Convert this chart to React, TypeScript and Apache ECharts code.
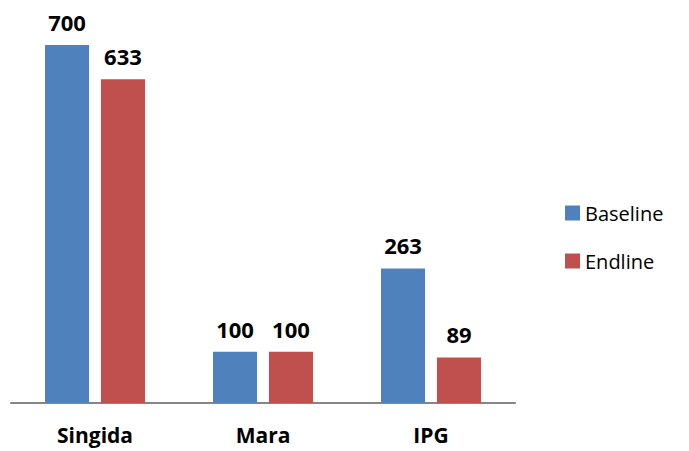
import React, { useEffect, useRef } from "react";
import * as echarts from "echarts";

const categories = ["Singida", "Mara", "IPG"];
const baseline = [700, 100, 263];
const endline = [633, 100, 89];
const seriesNames = ["Baseline", "Endline"];

export default function App() {
  const ref = useRef<HTMLDivElement>(null);
  useEffect(() => {
    if (!ref.current) return;
    const chart = echarts.init(ref.current, undefined, { renderer: "svg" });
    const font = "'Open Sans', Lato, sans-serif";
    const labelStyle = {
      show: true,
      position: "top" as const,
      distance: 12,
      fontFamily: font,
      fontWeight: "bold" as const,
      fontSize: 22,
      color: "#000",
    };
    chart.setOption({
      animation: false,
      textStyle: { fontFamily: font },
      grid: { left: 11, top: 45, width: 504, height: 358 },
      legend: {
        orient: "vertical",
        left: 560,
        top: 198,
        itemWidth: 15,
        itemHeight: 15,
        itemGap: 28,
        icon: "rect",
        textStyle: { fontFamily: font, fontSize: 20, color: "#000" },
        data: seriesNames,
      },
      xAxis: {
        type: "category",
        data: categories,
        axisLine: { lineStyle: { color: "#868686", width: 2 } },
        axisTick: { show: false },
        axisLabel: {
          fontFamily: font,
          fontWeight: "bold",
          fontSize: 21,
          color: "#000",
          margin: 21,
        },
      },
      yAxis: {
        type: "value",
        min: 0,
        max: 700,
        show: false,
        splitLine: { show: false },
      },
      series: [
        {
          name: seriesNames[0],
          type: "bar",
          data: baseline,
          barGap: "27%",
          barCategoryGap: "40.5%",
          itemStyle: { color: "#4F81BD" },
          label: labelStyle,
        },
        {
          name: seriesNames[1],
          type: "bar",
          data: endline,
          itemStyle: { color: "#C0504D" },
          label: labelStyle,
        },
      ],
    });
    return () => chart.dispose();
  }, []);
  return (
    <div
      ref={ref}
      style={{ position: "absolute", left: 0, top: 0, width: 689, height: 451 }}
    />
  );
}
